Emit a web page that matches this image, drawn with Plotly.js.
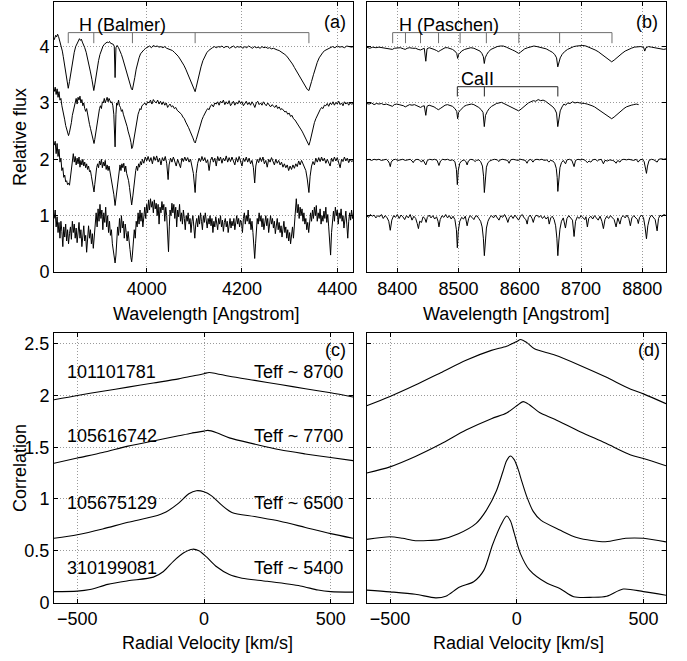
<!DOCTYPE html>
<html>
<head>
<meta charset="utf-8">
<script src="https://cdn.plot.ly/plotly-3.0.1.min.js"></script>
<style>html,body{margin:0;padding:0;background:#fff;}#chart{width:687px;height:661px;}</style>
</head>
<body>
<div id="chart"></div>
<script>
// ---------------- DATA ----------------
// Panel (a): blue spectra [wavelength (Angstrom), relative flux (offset)]
const spectrumA1 = [[3806,4.12],[3809,4.2],[3811,4.17],[3813,4.22],[3815,4.18],[3817,4.12],[3819,4.08],[3821,4.0],[3823,3.92],[3825,3.82],[3827,3.7],[3829,3.58],[3831,3.46],[3833,3.35],[3835.4,3.26],[3838,3.38],[3840,3.5],[3842,3.62],[3845,3.78],[3848,3.9],[3851,4.0],[3854,4.06],[3857,4.1],[3859,4.14],[3861,4.11],[3863,4.13],[3865,4.08],[3867,4.05],[3870,3.98],[3873,3.9],[3876,3.8],[3879,3.68],[3882,3.55],[3885,3.42],[3887,3.32],[3889,3.22],[3891,3.32],[3893,3.45],[3896,3.6],[3899,3.75],[3902,3.86],[3905,3.94],[3908,4.0],[3911,4.04],[3914,4.06],[3917,4.08],[3920,4.07],[3922,4.09],[3924,4.06],[3927,4.05],[3930,4.04],[3932,4.0],[3933.7,3.45],[3935.5,3.98],[3938,4.02],[3941,3.98],[3944,3.93],[3947,3.86],[3950,3.78],[3953,3.69],[3956,3.6],[3959,3.5],[3962,3.42],[3965,3.34],[3968,3.25],[3970,3.23],[3972,3.3],[3975,3.45],[3978,3.6],[3981,3.72],[3984,3.8],[3987,3.87],[3990,3.91],[3994,3.94],[3998,3.97],[4002,3.99],[4006,4.01],[4010,3.98],[4014,4.02],[4018,4.0],[4022,4.01],[4026,3.99],[4030,4.0],[4034,3.98],[4038,4.0],[4042,3.97],[4046,3.96],[4050,3.95],[4054,3.93],[4058,3.9],[4062,3.87],[4066,3.83],[4070,3.78],[4074,3.73],[4078,3.67],[4082,3.6],[4086,3.52],[4090,3.44],[4094,3.35],[4098,3.26],[4101.7,3.2],[4104,3.28],[4107,3.4],[4110,3.52],[4114,3.64],[4118,3.75],[4122,3.83],[4126,3.89],[4130,3.93],[4134,3.96],[4138,3.98],[4142,4.0],[4146,3.98],[4150,4.0],[4154,3.99],[4158,4.01],[4162,3.98],[4166,4.0],[4170,4.0],[4174,3.97],[4178,3.99],[4182,4.01],[4186,3.98],[4190,4.0],[4194,3.99],[4198,4.0],[4202,3.97],[4206,4.0],[4210,3.98],[4214,4.01],[4218,3.99],[4222,3.97],[4226,4.0],[4230,3.98],[4234,3.99],[4238,3.97],[4242,4.0],[4246,3.98],[4250,3.99],[4254,3.97],[4258,3.98],[4262,3.96],[4266,3.97],[4270,3.95],[4274,3.94],[4278,3.93],[4282,3.91],[4286,3.89],[4290,3.86],[4294,3.83],[4298,3.79],[4302,3.74],[4306,3.69],[4310,3.63],[4314,3.57],[4318,3.5],[4322,3.44],[4326,3.38],[4330,3.32],[4334,3.27],[4337,3.24],[4340.5,3.22],[4343,3.28],[4346,3.38],[4350,3.5],[4354,3.62],[4358,3.72],[4362,3.8],[4366,3.86],[4370,3.9],[4374,3.93],[4378,3.95],[4382,3.97],[4386,3.98],[4390,4.0],[4395,3.98],[4400,4.01],[4405,3.99],[4410,4.0],[4415,3.98],[4420,4.01],[4425,4.0],[4430,3.99],[4434,4.0]];

const spectrumA2 = [[3806,3.2],[3808,3.28],[3810,3.15],[3812,3.25],[3814,3.1],[3816,3.2],[3818,3.05],[3820,3.08],[3822,2.95],[3824,2.88],[3826,2.78],[3828,2.7],[3830,2.6],[3832,2.52],[3834,2.45],[3836,2.42],[3838,2.48],[3840,2.55],[3842,2.65],[3844,2.78],[3846,2.85],[3848,2.95],[3850,3.0],[3852,3.08],[3854,2.98],[3856,3.1],[3858,3.05],[3860,3.12],[3862,3.0],[3864,3.06],[3866,2.95],[3868,3.0],[3870,2.9],[3872,2.85],[3874,2.9],[3876,2.78],[3878,2.7],[3880,2.62],[3882,2.55],[3884,2.48],[3886,2.4],[3888,2.3],[3889.5,2.28],[3891,2.35],[3893,2.48],[3895,2.6],[3897,2.72],[3899,2.8],[3901,2.9],[3903,2.95],[3905,2.9],[3907,3.02],[3909,3.0],[3911,3.08],[3913,3.0],[3915,3.05],[3917,3.1],[3919,3.02],[3921,3.08],[3923,3.04],[3925,3.0],[3927,3.02],[3929,2.95],[3931,2.8],[3933.7,2.22],[3935.5,2.8],[3937,3.0],[3939,2.96],[3941,3.05],[3943,2.95],[3945,2.92],[3947,2.85],[3949,2.88],[3951,2.8],[3953,2.75],[3955,2.7],[3957,2.62],[3959,2.58],[3961,2.5],[3963,2.45],[3965,2.38],[3967,2.3],[3968.7,2.19],[3970.5,2.22],[3972,2.3],[3974,2.42],[3976,2.55],[3978,2.65],[3980,2.72],[3982,2.8],[3984,2.85],[3986,2.9],[3988,2.88],[3990,2.95],[3993,2.97],[3996,3.0],[3999,2.96],[4002,3.02],[4005,3.0],[4008,3.05],[4011,2.98],[4014,3.06],[4017,3.02],[4020,3.0],[4023,3.05],[4026,2.98],[4029,3.03],[4032,2.97],[4035,3.02],[4038,2.96],[4041,3.0],[4044,2.92],[4046,2.95],[4049,2.98],[4052,2.93],[4055,2.95],[4058,2.9],[4061,2.92],[4064,2.87],[4067,2.85],[4070,2.83],[4073,2.8],[4076,2.75],[4079,2.72],[4082,2.66],[4085,2.62],[4088,2.56],[4091,2.5],[4094,2.45],[4097,2.38],[4100,2.31],[4102,2.29],[4104,2.35],[4107,2.45],[4110,2.55],[4113,2.62],[4116,2.7],[4119,2.76],[4122,2.82],[4125,2.86],[4128,2.9],[4131,2.88],[4134,2.95],[4137,2.97],[4140,2.93],[4143,3.0],[4146,2.98],[4149,3.02],[4152,2.96],[4155,3.03],[4158,3.0],[4161,3.05],[4164,2.97],[4167,3.02],[4170,2.98],[4173,3.04],[4176,2.95],[4179,3.0],[4182,3.03],[4185,2.96],[4188,3.01],[4191,2.98],[4194,3.04],[4197,2.99],[4200,3.02],[4203,2.95],[4206,3.0],[4209,3.03],[4212,2.97],[4215,3.01],[4218,2.96],[4221,3.02],[4224,2.98],[4227,2.92],[4230,3.0],[4233,3.03],[4236,2.97],[4239,3.0],[4242,2.96],[4245,3.02],[4248,2.98],[4251,2.95],[4254,3.0],[4257,2.97],[4260,2.93],[4263,2.97],[4266,2.94],[4269,2.92],[4272,2.96],[4275,2.9],[4278,2.93],[4281,2.88],[4284,2.9],[4287,2.86],[4290,2.84],[4293,2.85],[4296,2.8],[4299,2.82],[4302,2.76],[4305,2.78],[4308,2.72],[4311,2.7],[4314,2.66],[4317,2.62],[4320,2.6],[4323,2.55],[4326,2.5],[4329,2.45],[4332,2.4],[4335,2.35],[4338,2.28],[4340.5,2.25],[4343,2.32],[4346,2.45],[4349,2.55],[4352,2.65],[4355,2.72],[4358,2.78],[4361,2.84],[4364,2.88],[4367,2.92],[4370,2.9],[4373,2.96],[4376,2.95],[4379,2.99],[4382,2.94],[4385,3.0],[4388,2.97],[4391,3.02],[4394,2.96],[4397,3.01],[4400,2.98],[4403,3.03],[4406,2.97],[4409,3.0],[4412,2.95],[4415,3.02],[4418,2.98],[4421,3.01],[4424,2.96],[4427,3.0],[4430,2.98],[4434,2.99]];

const spectrumA3 = [[3806,2.25],[3808,2.32],[3810,2.1],[3812,2.28],[3814,2.05],[3816,2.18],[3818,1.95],[3820,2.02],[3822,1.8],[3824,1.85],[3826,1.68],[3828,1.72],[3830,1.6],[3832,1.62],[3834,1.55],[3836,1.58],[3838,1.54],[3840,1.68],[3842,1.85],[3844,2.05],[3846,2.1],[3848,1.95],[3850,2.05],[3852,1.9],[3854,2.02],[3856,1.92],[3858,2.04],[3860,1.86],[3862,1.98],[3864,1.9],[3866,2.0],[3868,1.88],[3870,1.95],[3872,1.85],[3874,1.92],[3876,1.82],[3878,1.88],[3880,1.78],[3882,1.8],[3884,1.7],[3886,1.62],[3888,1.5],[3889.5,1.42],[3891,1.55],[3893,1.72],[3895,1.85],[3897,1.92],[3899,1.85],[3901,1.97],[3903,1.9],[3905,2.0],[3907,1.85],[3909,1.95],[3911,1.88],[3913,1.98],[3915,1.82],[3917,1.9],[3919,1.8],[3921,1.88],[3923,1.78],[3925,1.7],[3927,1.62],[3929,1.52],[3931,1.38],[3933.7,1.18],[3936,1.35],[3938,1.55],[3940,1.7],[3942,1.82],[3944,1.9],[3946,1.8],[3948,1.92],[3950,1.85],[3952,1.93],[3954,1.78],[3956,1.88],[3958,1.75],[3960,1.7],[3962,1.62],[3964,1.5],[3966,1.38],[3968.5,1.19],[3971,1.35],[3973,1.55],[3975,1.7],[3977,1.8],[3979,1.88],[3981,1.8],[3983,1.92],[3985,1.86],[3987,1.96],[3989,1.9],[3991,2.0],[3994,1.93],[3997,2.04],[4000,1.97],[4003,2.05],[4006,1.96],[4009,2.03],[4012,1.92],[4015,2.05],[4018,1.98],[4021,2.06],[4024,1.95],[4027,2.02],[4030,1.9],[4033,2.03],[4036,1.97],[4039,2.05],[4042,1.93],[4045,1.64],[4047,1.9],[4050,2.02],[4053,1.95],[4056,2.04],[4059,1.97],[4062,1.88],[4065,2.0],[4068,1.94],[4071,1.85],[4074,2.02],[4077,1.96],[4080,2.04],[4083,1.97],[4086,2.03],[4089,1.95],[4092,2.0],[4095,1.9],[4098,1.75],[4101.7,1.41],[4104,1.75],[4107,1.93],[4110,2.02],[4113,1.96],[4116,2.05],[4119,1.97],[4122,2.03],[4125,1.94],[4128,1.99],[4131,1.8],[4134,1.98],[4137,2.04],[4140,1.95],[4143,2.02],[4146,1.88],[4149,2.05],[4152,1.97],[4155,2.04],[4158,1.93],[4161,2.02],[4164,1.97],[4167,2.06],[4170,1.95],[4173,2.03],[4176,1.96],[4179,2.04],[4182,1.97],[4185,1.9],[4188,2.03],[4191,1.95],[4194,2.05],[4197,1.98],[4200,1.88],[4203,2.02],[4206,1.96],[4209,2.04],[4212,1.95],[4215,2.02],[4218,1.92],[4221,1.98],[4224,1.85],[4226.7,1.58],[4229,1.88],[4232,2.0],[4235,1.94],[4238,2.03],[4241,1.96],[4244,2.04],[4247,1.92],[4250,1.98],[4253,1.86],[4256,2.0],[4259,1.95],[4262,2.03],[4265,1.97],[4268,1.9],[4271,2.0],[4274,1.93],[4277,1.98],[4280,1.9],[4283,1.95],[4286,1.86],[4289,1.92],[4292,1.85],[4295,1.9],[4298,1.8],[4301,1.88],[4304,1.82],[4307,1.9],[4310,1.84],[4313,1.92],[4316,1.87],[4319,1.97],[4322,1.9],[4325,1.98],[4328,1.92],[4331,1.88],[4334,1.8],[4337,1.65],[4340.5,1.41],[4343,1.7],[4346,1.88],[4349,1.96],[4352,1.9],[4355,2.02],[4358,1.95],[4361,2.03],[4364,1.96],[4367,2.04],[4370,1.97],[4373,2.02],[4376,1.93],[4379,2.0],[4382,1.94],[4385,1.88],[4388,2.02],[4391,1.96],[4394,2.04],[4397,1.97],[4400,2.03],[4403,1.95],[4406,1.85],[4409,2.0],[4412,1.96],[4415,2.04],[4418,1.97],[4421,2.02],[4424,1.94],[4427,2.0],[4430,1.96],[4434,1.98]];

const spectrumA4 = [[3806,0.95],[3808,1.1],[3810,0.8],[3812,0.98],[3814,0.7],[3816,0.88],[3818,0.6],[3820,0.9],[3822,0.72],[3824,0.45],[3826,0.8],[3828,0.62],[3830,0.85],[3832,0.55],[3834,0.75],[3836,0.5],[3838,0.68],[3840,0.8],[3842,0.58],[3844,0.9],[3846,0.7],[3848,0.85],[3850,0.6],[3852,0.78],[3854,0.52],[3856,0.72],[3858,0.88],[3860,0.6],[3862,0.75],[3864,0.45],[3866,0.7],[3868,0.82],[3870,0.55],[3872,0.65],[3874,0.35],[3876,0.7],[3878,0.82],[3880,0.6],[3882,0.75],[3884,0.5],[3886,0.68],[3888,0.42],[3890,0.65],[3892,0.9],[3894,1.05],[3896,0.8],[3898,1.12],[3900,0.9],[3902,1.2],[3904,0.95],[3906,1.1],[3908,0.75],[3910,1.05],[3912,0.88],[3914,1.15],[3916,0.8],[3918,1.0],[3920,0.7],[3922,0.9],[3924,0.65],[3926,0.75],[3928,0.5],[3930,0.4],[3932,0.25],[3933.7,0.16],[3935.5,0.3],[3937,0.55],[3939,0.8],[3941,0.65],[3943,0.95],[3945,0.7],[3947,1.0],[3949,0.78],[3951,0.9],[3953,0.6],[3955,0.85],[3957,0.7],[3959,0.55],[3961,0.72],[3963,0.5],[3965,0.4],[3967,0.25],[3968.5,0.18],[3970,0.3],[3972,0.5],[3974,0.75],[3976,0.6],[3978,0.9],[3980,0.8],[3982,1.05],[3984,0.85],[3986,1.1],[3988,0.9],[3990,1.05],[3992,0.8],[3994,1.0],[3996,1.15],[3998,0.95],[4000,1.2],[4002,1.05],[4004,1.28],[4006,1.1],[4008,1.3],[4010,1.15],[4012,1.25],[4014,1.05],[4016,1.28],[4018,1.12],[4020,1.22],[4022,1.0],[4024,1.2],[4026,0.85],[4028,1.15],[4030,1.05],[4032,1.25],[4034,1.1],[4036,1.2],[4038,0.9],[4040,1.15],[4042,1.0],[4044,0.7],[4045.8,0.36],[4047.5,0.8],[4049,1.1],[4051,1.0],[4053,1.22],[4055,1.05],[4057,1.2],[4059,0.95],[4061,1.15],[4063,0.8],[4065,1.1],[4067,0.98],[4069,1.2],[4071,0.9],[4073,1.05],[4075,0.85],[4077,1.1],[4079,0.95],[4081,0.75],[4083,1.0],[4085,0.9],[4087,1.05],[4089,0.85],[4091,0.95],[4093,0.7],[4095,0.9],[4097,1.0],[4099,0.8],[4101,0.6],[4103,0.85],[4105,0.95],[4107,0.8],[4109,1.0],[4111,0.85],[4113,1.05],[4115,0.9],[4117,0.75],[4119,1.0],[4121,0.88],[4123,1.05],[4125,0.92],[4127,0.78],[4129,0.95],[4131,0.85],[4133,1.0],[4135,0.82],[4137,0.95],[4139,0.7],[4141,0.9],[4143,0.8],[4145,0.98],[4147,0.85],[4149,0.75],[4151,0.95],[4153,0.85],[4155,1.0],[4157,0.8],[4159,0.92],[4161,0.72],[4163,0.88],[4165,0.95],[4167,0.8],[4169,0.9],[4171,0.7],[4173,0.85],[4175,0.95],[4177,0.78],[4179,0.9],[4181,0.82],[4183,0.95],[4185,0.75],[4187,0.88],[4189,1.0],[4191,0.85],[4193,0.95],[4195,0.8],[4197,0.92],[4199,0.88],[4201,0.7],[4203,0.95],[4205,1.05],[4207,0.85],[4209,1.0],[4211,0.9],[4213,1.1],[4215,0.85],[4217,0.95],[4219,0.75],[4221,0.9],[4223,0.7],[4225,0.45],[4226.7,0.24],[4228.5,0.5],[4230,0.8],[4232,0.95],[4234,0.85],[4236,1.05],[4238,0.9],[4240,1.0],[4242,0.8],[4244,0.95],[4246,0.75],[4248,0.9],[4250,1.0],[4252,0.82],[4254,0.95],[4256,0.7],[4258,0.88],[4260,1.0],[4262,0.85],[4264,0.95],[4266,0.78],[4268,0.9],[4270,0.68],[4272,0.85],[4274,0.95],[4276,0.75],[4278,0.88],[4280,0.7],[4282,0.82],[4284,0.62],[4286,0.78],[4288,0.9],[4290,0.7],[4292,0.8],[4294,0.6],[4296,0.75],[4298,0.55],[4300,0.7],[4302,0.5],[4304,0.65],[4306,0.8],[4308,0.6],[4310,0.9],[4312,1.1],[4314,1.3],[4316,1.05],[4318,1.2],[4320,0.95],[4322,1.15],[4324,1.0],[4326,1.12],[4328,0.9],[4330,1.05],[4332,0.85],[4334,0.95],[4336,0.75],[4338,0.88],[4340,0.7],[4342,0.9],[4344,1.05],[4346,0.9],[4348,1.1],[4350,0.95],[4352,1.15],[4354,1.0],[4356,1.18],[4358,0.9],[4360,1.05],[4362,0.95],[4364,1.12],[4366,0.85],[4368,1.0],[4370,0.9],[4372,1.08],[4374,0.95],[4376,1.15],[4378,0.88],[4380,1.02],[4382,0.8],[4384,0.55],[4386,0.3],[4388,0.7],[4390,0.95],[4392,1.08],[4394,0.9],[4396,1.15],[4398,1.0],[4400,1.1],[4402,0.85],[4404,1.05],[4406,0.95],[4408,1.12],[4410,0.9],[4412,1.0],[4414,0.78],[4416,0.95],[4418,1.08],[4420,0.85],[4422,0.6],[4424,0.9],[4426,1.05],[4428,0.92],[4430,1.1],[4432,0.95],[4434,1.05]];

// Panel (b): red spectra
const spectrumB1 = [[8350,3.99],[8355,3.97],[8360,3.99],[8365,3.98],[8370,3.99],[8375,3.98],[8380,3.98],[8385,3.97],[8389,3.96],[8392,3.95],[8395,3.97],[8400,3.98],[8405,3.98],[8410,3.96],[8413,3.95],[8416,3.97],[8420,3.98],[8425,3.97],[8430,3.97],[8434,3.95],[8438,3.94],[8442,3.96],[8444,3.97],[8446.5,3.74],[8448.5,3.96],[8452,3.98],[8456,3.97],[8460,3.95],[8464,3.93],[8467,3.91],[8470,3.93],[8474,3.96],[8478,3.98],[8482,3.98],[8486,3.97],[8490,3.95],[8494,3.92],[8497,3.88],[8498.5,3.79],[8500,3.86],[8502,3.88],[8505,3.92],[8510,3.95],[8515,3.97],[8520,3.98],[8525,3.97],[8530,3.95],[8535,3.92],[8538,3.88],[8540.5,3.82],[8542,3.7],[8543.5,3.8],[8546,3.86],[8549,3.91],[8553,3.95],[8558,3.98],[8563,4.0],[8568,4.01],[8573,4.01],[8578,3.99],[8583,3.97],[8588,3.94],[8592,3.92],[8595,3.9],[8598,3.88],[8601,3.9],[8604,3.93],[8608,3.96],[8613,3.98],[8618,4.0],[8623,4.01],[8628,4.0],[8633,3.99],[8638,3.98],[8643,3.96],[8648,3.93],[8653,3.9],[8657,3.86],[8660,3.8],[8662,3.64],[8664,3.74],[8666,3.8],[8669,3.86],[8673,3.91],[8678,3.95],[8683,3.98],[8688,4.0],[8693,4.01],[8698,4.02],[8703,4.02],[8708,4.01],[8713,3.99],[8718,3.97],[8723,3.94],[8728,3.91],[8733,3.87],[8738,3.83],[8742,3.79],[8746,3.76],[8750,3.73],[8754,3.76],[8758,3.8],[8762,3.84],[8767,3.88],[8772,3.92],[8777,3.95],[8782,3.97],[8787,3.99],[8792,4.0],[8797,4.0],[8802,3.99],[8804,3.92],[8806,3.98],[8810,4.0],[8815,3.99],[8820,3.98],[8825,3.97],[8830,3.96],[8835,3.95],[8839,3.96]];

const spectrumB2 = [[8350,2.99],[8354,2.98],[8358,3.0],[8362,2.97],[8366,2.99],[8370,2.98],[8374,2.99],[8378,2.97],[8382,2.98],[8386,2.96],[8389,2.95],[8392,2.94],[8395,2.97],[8399,2.98],[8403,2.97],[8407,2.96],[8410,2.95],[8413,2.93],[8416,2.95],[8420,2.97],[8424,2.96],[8428,2.97],[8432,2.95],[8435,2.93],[8438,2.92],[8441,2.94],[8444,2.95],[8446.5,2.78],[8448.5,2.94],[8452,2.96],[8456,2.95],[8460,2.93],[8464,2.9],[8467,2.88],[8470,2.9],[8474,2.93],[8478,2.96],[8482,2.97],[8486,2.96],[8490,2.94],[8494,2.9],[8497,2.85],[8498.5,2.72],[8500,2.83],[8502,2.86],[8505,2.9],[8509,2.94],[8513,2.96],[8517,2.97],[8521,2.98],[8525,2.97],[8529,2.95],[8533,2.92],[8537,2.88],[8540,2.83],[8542,2.58],[8544,2.78],[8547,2.85],[8550,2.9],[8554,2.94],[8558,2.97],[8562,2.99],[8566,3.0],[8570,3.01],[8574,2.99],[8578,2.97],[8582,2.95],[8586,2.93],[8590,2.91],[8594,2.88],[8598,2.86],[8602,2.89],[8606,2.93],[8610,2.97],[8614,3.0],[8618,3.02],[8622,3.04],[8626,3.03],[8630,3.06],[8634,3.04],[8638,3.05],[8642,3.03],[8646,3.0],[8650,2.97],[8654,2.93],[8657,2.89],[8660,2.82],[8662,2.58],[8664,2.75],[8666,2.86],[8669,2.93],[8672,2.98],[8675,2.96],[8678,3.0],[8682,2.99],[8686,3.02],[8690,3.0],[8694,3.01],[8698,3.0],[8702,3.0],[8706,2.99],[8710,2.98],[8714,2.97],[8718,2.95],[8722,2.93],[8726,2.9],[8730,2.87],[8734,2.84],[8738,2.81],[8742,2.78],[8746,2.75],[8750,2.72],[8754,2.75],[8758,2.79],[8762,2.83],[8766,2.87],[8770,2.9],[8774,2.93],[8778,2.95],[8782,2.96],[8786,2.97],[8790,2.98],[8794,2.97]];

const spectrumB3 = [[8350,1.99],[8354,2.0],[8358,1.98],[8362,2.0],[8366,1.99],[8370,2.0],[8374,1.98],[8378,1.99],[8382,2.0],[8385,1.97],[8387,1.93],[8388.5,1.87],[8390,1.95],[8393,1.99],[8397,2.0],[8401,1.98],[8405,1.99],[8409,2.0],[8413,1.98],[8417,1.99],[8421,2.0],[8424,1.97],[8426,1.94],[8428,1.98],[8432,2.0],[8436,1.99],[8439.5,1.95],[8442,1.99],[8446.5,1.9],[8449,1.98],[8453,2.0],[8457,1.99],[8461,2.0],[8465,1.98],[8468,1.89],[8470.5,1.97],[8474,2.0],[8478,1.99],[8482,2.0],[8486,1.98],[8490,1.99],[8494,1.96],[8496.5,1.82],[8498,1.55],[8499.5,1.8],[8502,1.93],[8505,1.97],[8509,1.99],[8512,1.96],[8514,1.9],[8516,1.97],[8520,2.0],[8524,1.99],[8527,1.96],[8529,1.98],[8533,1.99],[8536,1.96],[8539,1.88],[8540.8,1.7],[8542.1,1.41],[8543.5,1.68],[8545.5,1.86],[8548,1.94],[8551,1.97],[8555,1.99],[8559,2.0],[8563,1.99],[8566,1.96],[8568,1.99],[8572,2.0],[8576,1.99],[8580,1.98],[8582.5,1.93],[8585,1.99],[8589,2.0],[8593,1.99],[8597,1.98],[8601,2.0],[8605,1.99],[8609,1.98],[8611.8,1.93],[8614,1.98],[8618,2.0],[8621.5,1.95],[8624,1.99],[8628,2.0],[8632,1.99],[8636,2.0],[8640,1.98],[8644,1.99],[8647.5,1.95],[8650,1.98],[8654,1.97],[8657,1.93],[8659.5,1.84],[8661,1.68],[8662.1,1.43],[8663.5,1.66],[8665.5,1.85],[8668,1.94],[8671,1.98],[8674.7,1.92],[8677,1.99],[8681,2.0],[8685,1.98],[8688.6,1.87],[8691,1.98],[8695,2.0],[8699,1.99],[8703,2.0],[8707,1.98],[8710.2,1.94],[8713,1.97],[8716,1.95],[8719,1.99],[8723,2.0],[8727,1.97],[8729,1.99],[8733,2.0],[8736.5,1.92],[8739,1.98],[8743,1.97],[8747,1.99],[8751,1.98],[8754,1.97],[8757.2,1.93],[8760,1.98],[8763.5,1.95],[8766,1.99],[8770,2.0],[8774,1.99],[8778,2.0],[8782,1.99],[8786,1.98],[8790,2.0],[8793.3,1.95],[8796,1.99],[8800,2.0],[8803,1.96],[8805,1.85],[8806.8,1.75],[8808.5,1.88],[8811,1.98],[8815,2.0],[8819,1.99],[8824.2,1.95],[8827,2.0],[8831,2.01],[8835,2.0],[8839,2.01]];

const spectrumB4 = [[8350,1.0],[8353,0.97],[8356,1.02],[8359,0.99],[8362,1.01],[8365,0.96],[8368,1.0],[8371,0.98],[8374,1.02],[8377,0.95],[8380,1.0],[8383,0.97],[8386,0.9],[8388.5,0.74],[8391,0.92],[8394,1.0],[8397,0.97],[8400,1.02],[8403,0.95],[8406,1.01],[8409,0.98],[8412,0.93],[8415,1.0],[8418,0.96],[8421,1.02],[8424,0.92],[8427,0.99],[8430,0.95],[8432.5,0.86],[8434.5,0.77],[8436.5,0.9],[8439.5,0.88],[8442,0.98],[8445,0.95],[8447,0.88],[8449,0.97],[8452,1.01],[8455,0.96],[8458,1.0],[8461,0.94],[8464,0.98],[8466.5,0.9],[8468,0.8],[8470,0.93],[8473,1.0],[8476,0.97],[8479,1.02],[8482,0.96],[8485,1.0],[8488,0.94],[8491,0.99],[8494,0.93],[8496.5,0.75],[8498,0.43],[8499.5,0.72],[8502,0.9],[8505,0.97],[8508,0.94],[8511,0.99],[8514,0.82],[8516.5,0.95],[8519,1.0],[8522,0.97],[8525,0.93],[8527,0.98],[8530,1.0],[8533,0.95],[8536,0.9],[8538.5,0.8],[8540.5,0.6],[8542.1,0.29],[8543.7,0.58],[8545.5,0.78],[8548,0.9],[8551,0.97],[8554,1.0],[8557,0.96],[8560,1.01],[8563,0.97],[8566,0.92],[8569,1.0],[8572,0.97],[8575,1.02],[8578,0.96],[8580.5,0.88],[8583,0.97],[8586,1.0],[8589,0.95],[8592,1.01],[8595,0.97],[8598,0.92],[8601,0.99],[8604,1.02],[8607,0.96],[8610,0.93],[8612,0.85],[8614,0.97],[8617,1.01],[8620,0.95],[8622,0.88],[8624.5,0.98],[8628,1.01],[8631,0.97],[8634,1.0],[8637,0.95],[8640,0.99],[8643,0.94],[8646,0.98],[8648,0.85],[8650.5,0.96],[8653,0.99],[8656,0.93],[8658.5,0.82],[8660.5,0.6],[8662.1,0.29],[8663.7,0.55],[8665.5,0.76],[8668,0.9],[8671,0.96],[8674.5,0.78],[8677,0.95],[8680,1.0],[8683,0.96],[8686,0.92],[8688.6,0.63],[8691,0.9],[8694,0.98],[8697,0.95],[8700,1.0],[8703,0.96],[8706,0.93],[8708,0.98],[8710.3,0.8],[8712.5,0.95],[8716,0.99],[8719,0.94],[8722,1.0],[8725,0.96],[8728,0.92],[8731,0.99],[8734,0.9],[8736.5,0.77],[8739,0.93],[8742,0.99],[8745,0.95],[8748,1.0],[8751,0.96],[8754,0.93],[8757.2,0.8],[8760,0.96],[8763.5,0.85],[8766,0.97],[8769,1.0],[8772,0.96],[8775,1.01],[8778,0.95],[8780.5,0.82],[8783,0.96],[8786,1.0],[8789,0.97],[8792,0.93],[8793.5,0.86],[8795.5,0.97],[8799,1.01],[8802,0.96],[8804.5,0.8],[8806.8,0.59],[8809,0.82],[8812,0.96],[8815,1.01],[8818,0.97],[8821,0.93],[8824.2,0.73],[8826.5,0.95],[8829,1.01],[8832,0.98],[8835,1.02],[8839,1.0]];

// Panel (c): cross-correlation, blue arm
const rvC1 = [-592,-500,-400,-300,-200,-100,-50,0,20,50,100,200,300,400,500,588];
const ccC1 = [1.958,2.0,2.04,2.08,2.12,2.16,2.185,2.21,2.222,2.21,2.185,2.145,2.105,2.065,2.025,1.985];
const rvC2 = [-592,-500,-400,-300,-200,-100,-50,0,15,50,100,200,300,400,500,588];
const ccC2 = [1.345,1.395,1.448,1.51,1.56,1.61,1.635,1.655,1.662,1.64,1.59,1.53,1.475,1.435,1.40,1.37];
const rvC3 = [-592,-500,-400,-300,-200,-150,-100,-60,-30,0,30,70,110,200,300,400,500,588];
const ccC3 = [0.62,0.655,0.71,0.775,0.83,0.875,0.96,1.05,1.08,1.07,1.03,0.94,0.87,0.83,0.785,0.725,0.665,0.62];
const rvC4 = [-592,-500,-450,-380,-300,-200,-160,-120,-80,-45,-20,10,50,100,150,250,380,450,500,588];
const ccC4 = [0.105,0.11,0.125,0.175,0.21,0.245,0.30,0.40,0.48,0.515,0.50,0.44,0.345,0.27,0.235,0.205,0.16,0.12,0.105,0.10];

// Panel (d): cross-correlation, red arm
const rvD1 = [-592,-500,-400,-300,-200,-100,-40,0,15,40,70,150,250,350,450,500,589];
const ccD1 = [1.90,1.99,2.10,2.22,2.34,2.435,2.475,2.52,2.54,2.51,2.45,2.39,2.29,2.18,2.06,2.015,1.92];
const rvD2 = [-592,-500,-400,-300,-200,-100,-40,0,25,50,90,150,250,350,450,500,589];
const ccD2 = [1.25,1.31,1.41,1.53,1.665,1.775,1.83,1.90,1.94,1.91,1.835,1.77,1.65,1.54,1.425,1.39,1.32];
const rvD3 = [-592,-500,-450,-400,-300,-230,-160,-120,-80,-55,-40,-25,-10,5,20,40,65,95,170,240,350,430,500,589];
const ccD3 = [0.61,0.635,0.62,0.597,0.61,0.665,0.765,0.89,1.08,1.26,1.37,1.415,1.38,1.29,1.17,1.02,0.88,0.795,0.70,0.625,0.587,0.62,0.62,0.585];
const rvD4 = [-592,-500,-400,-320,-280,-225,-170,-130,-95,-60,-40,-25,-10,15,50,120,170,225,300,355,420,500,589];
const ccD4 = [0.12,0.103,0.08,0.045,0.06,0.15,0.2,0.31,0.56,0.76,0.835,0.79,0.67,0.47,0.315,0.185,0.135,0.055,0.05,0.06,0.13,0.105,0.07];

// Line identifications
const balmerLines = [3835.4, 3889.0, 3970.1, 4101.7, 4340.5];
const paschenLines = [8392.4, 8413.3, 8437.9, 8467.3, 8502.5, 8545.4, 8598.4, 8665.0, 8750.5];
const caIILines = [8498.0, 8542.1, 8662.1];

const starIds = ['101101781', '105616742', '105675129', '310199081'];
const teffLabels = ['Teff ~ 8700', 'Teff ~ 7700', 'Teff ~ 6500', 'Teff ~ 5400'];
const labelLevels = [2.23, 1.61, 0.965, 0.33];
const panelLabels = ['(a)', '(b)', '(c)', '(d)'];

// ---------------- BUILD ----------------
const W = 687, H = 661;
const px = v => v / W;
const py = v => 1 - v / H;

const lineStyle = {color: '#000', width: 1};
const traces = [];
function specTrace(spec, xa, ya) {
  return {x: spec.map(p => p[0]), y: spec.map(p => p[1]), xaxis: xa, yaxis: ya,
          type: 'scatter', mode: 'lines', line: lineStyle, hoverinfo: 'skip'};
}
[spectrumA1, spectrumA2, spectrumA3, spectrumA4].forEach(s => traces.push(specTrace(s, 'x', 'y')));
[spectrumB1, spectrumB2, spectrumB3, spectrumB4].forEach(s => traces.push(specTrace(s, 'x2', 'y2')));
function ccTrace(rv, cc, xa, ya) {
  return {x: rv, y: cc, xaxis: xa, yaxis: ya, type: 'scatter', mode: 'lines',
          line: {color: '#000', width: 1.1, shape: 'spline', smoothing: 0.8}, hoverinfo: 'skip'};
}
traces.push(ccTrace(rvC1, ccC1, 'x3', 'y3'));
traces.push(ccTrace(rvC2, ccC2, 'x3', 'y3'));
traces.push(ccTrace(rvC3, ccC3, 'x3', 'y3'));
traces.push(ccTrace(rvC4, ccC4, 'x3', 'y3'));
traces.push(ccTrace(rvD1, ccD1, 'x4', 'y4'));
traces.push(ccTrace(rvD2, ccD2, 'x4', 'y4'));
traces.push(ccTrace(rvD3, ccD3, 'x4', 'y4'));
traces.push(ccTrace(rvD4, ccD4, 'x4', 'y4'));

const axisCommon = {
  showline: true, linecolor: '#000', linewidth: 1, mirror: 'ticks',
  ticks: 'inside', ticklen: 4, tickcolor: '#000', tickwidth: 1,
  showgrid: true, gridcolor: '#9a9a9a', griddash: '1px,2px', gridwidth: 1,
  zeroline: false, fixedrange: true,
  tickfont: {size: 18, color: '#000'}
};
const domXL = [px(54), px(353)], domXR = [px(366.7), px(666)];
const domYT = [py(272), py(1.5)], domYB = [py(602.5), py(333.3)];

const shapes = [];
function bracket(lines, xref, yref, yTop, yBot, color) {
  shapes.push({type: 'line', xref, yref, x0: lines[0], x1: lines[lines.length - 1], y0: yTop, y1: yTop,
               line: {color, width: 1}});
  lines.forEach(l => shapes.push({type: 'line', xref, yref, x0: l, x1: l, y0: yTop, y1: yBot,
               line: {color, width: 1}}));
}
bracket(balmerLines, 'x', 'y', 4.248, 4.06, '#6e6e6e');
bracket(paschenLines, 'x2', 'y2', 4.248, 4.06, '#6e6e6e');
bracket(caIILines, 'x2', 'y2', 3.288, 3.115, '#222');

const annotations = [];
const f18 = {size: 18, color: '#000'};
function ann(o) { annotations.push(Object.assign({showarrow: false, font: f18}, o)); }
ann({text: 'H (Balmer)', xref: 'x', yref: 'y', x: 3853, y: 4.385, xanchor: 'left', yanchor: 'middle'});
ann({text: 'H (Paschen)', xref: 'x2', yref: 'y2', x: 8399, y: 4.385, xanchor: 'left', yanchor: 'middle'});
ann({text: 'CaII', xref: 'x2', yref: 'y2', x: 8500.5, y: 3.43, xanchor: 'left', yanchor: 'middle'});
ann({text: panelLabels[0], xref: 'x', yref: 'y', x: 4423, y: 4.44, xanchor: 'right', yanchor: 'middle'});
ann({text: panelLabels[1], xref: 'x2', yref: 'y2', x: 8829, y: 4.44, xanchor: 'right', yanchor: 'middle'});
ann({text: panelLabels[2], xref: 'x3', yref: 'y3', x: 570, y: 2.435, xanchor: 'right', yanchor: 'middle'});
ann({text: panelLabels[3], xref: 'x4', yref: 'y4', x: 572, y: 2.435, xanchor: 'right', yanchor: 'middle'});
starIds.forEach((s, i) => ann({text: s, xref: 'x3', yref: 'y3', x: -548, y: labelLevels[i], xanchor: 'left', yanchor: 'middle'}));
teffLabels.forEach((s, i) => ann({text: s, xref: 'x3', yref: 'y3', x: 556, y: labelLevels[i], xanchor: 'right', yanchor: 'middle'}));
// axis titles
ann({text: 'Wavelength [Angstrom]', xref: 'paper', yref: 'paper', x: px(206), y: py(314), xanchor: 'center', yanchor: 'middle'});
ann({text: 'Wavelength [Angstrom]', xref: 'paper', yref: 'paper', x: px(516), y: py(314), xanchor: 'center', yanchor: 'middle'});
ann({text: 'Radial Velocity [km/s]', xref: 'paper', yref: 'paper', x: px(207), y: py(643), xanchor: 'center', yanchor: 'middle'});
ann({text: 'Radial Velocity [km/s]', xref: 'paper', yref: 'paper', x: px(518), y: py(643), xanchor: 'center', yanchor: 'middle'});
ann({text: 'Relative flux', xref: 'paper', yref: 'paper', x: px(20), y: py(137), textangle: -90, xanchor: 'center', yanchor: 'middle'});
ann({text: 'Correlation', xref: 'paper', yref: 'paper', x: px(20), y: py(468), textangle: -90, xanchor: 'center', yanchor: 'middle'});

const layout = {
  width: W, height: H, margin: {l: 0, r: 0, t: 0, b: 0}, showlegend: false,
  paper_bgcolor: '#fff', plot_bgcolor: '#fff',
  font: {family: 'Liberation Sans, Arial, Helvetica, sans-serif', size: 18, color: '#000'},
  xaxis: Object.assign({}, axisCommon, {domain: domXL, range: [3805.5, 4433], tickvals: [4000, 4200, 4400], anchor: 'y'}),
  yaxis: Object.assign({}, axisCommon, {domain: domYT, range: [0, 4.8], tickvals: [0, 1, 2, 3, 4], anchor: 'x'}),
  xaxis2: Object.assign({}, axisCommon, {domain: domXR, range: [8350, 8838.7], tickvals: [8400, 8500, 8600, 8700, 8800], anchor: 'y2'}),
  yaxis2: Object.assign({}, axisCommon, {domain: domYT, range: [0, 4.8], tickvals: [0, 1, 2, 3, 4], showticklabels: false, anchor: 'x2'}),
  xaxis3: Object.assign({}, axisCommon, {domain: domXL, range: [-592, 588], tickvals: [-500, 0, 500], anchor: 'y3'}),
  yaxis3: Object.assign({}, axisCommon, {domain: domYB, range: [0, 2.6], tickvals: [0, 0.5, 1, 1.5, 2, 2.5], anchor: 'x3'}),
  xaxis4: Object.assign({}, axisCommon, {domain: domXR, range: [-592, 589], tickvals: [-500, 0, 500], anchor: 'y4'}),
  yaxis4: Object.assign({}, axisCommon, {domain: domYB, range: [0, 2.6], tickvals: [0, 0.5, 1, 1.5, 2, 2.5], showticklabels: false, anchor: 'x4'}),
  shapes, annotations
};

Plotly.newPlot('chart', traces, layout, {displayModeBar: false, staticPlot: true});
</script>
</body>
</html>
